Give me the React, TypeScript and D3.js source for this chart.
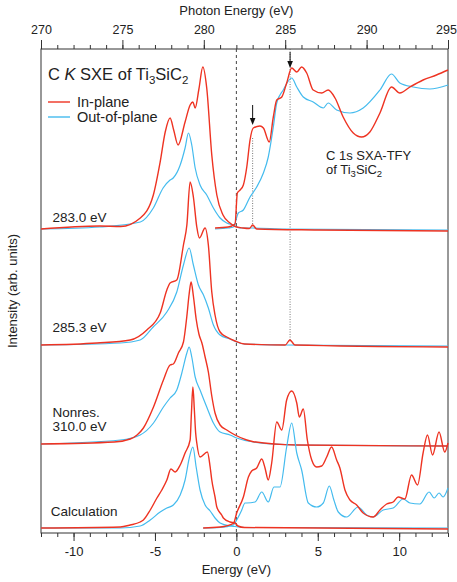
import { useEffect, useRef } from 'react';
import * as d3 from 'd3';

type Pt = [number, number];

// x: emission / absorption energy relative to 282 eV, y: intensity above each baseline (arb. units)
const sxe283In: Pt[] = [
  [-12, 0], [-8.4, 3], [-7.1, 2.5], [-5.9, 11], [-5.1, 34], [-4.68, 67], [-4.37, 97], [-4.07, 111],
  [-3.85, 99], [-3.58, 84], [-3.15, 107], [-2.84, 124], [-2.67, 127], [-2.53, 121], [-2.3, 140],
  [-2.06, 162], [-1.82, 141], [-1.51, 74], [-1.2, 34], [-0.82, 14], [-0.39, 6], [-0.08, 2.5],
  [0.41, 1], [0.8, 0.5], [1.0, 4], [1.25, 0], [5, -1], [13, -2],
];
const sxe283Out: Pt[] = [
  [-12, 0], [-8.4, 2], [-5.9, 7], [-5.1, 21], [-4.5, 41], [-4.07, 49], [-3.88, 51], [-3.45, 64],
  [-3.15, 81], [-2.94, 96], [-2.74, 84], [-2.53, 61], [-2.23, 44], [-1.82, 34], [-1.41, 21],
  [-1.0, 11], [-0.59, 6], [-0.2, 4], [0.2, 1], [1.0, 1], [3, 0], [13, -1],
];
const sxe285In: Pt[] = [
  [-12, 0], [-8.56, 2], [-6.52, 5], [-5.5, 15], [-4.68, 32], [-4.27, 55], [-4.07, 62], [-3.66, 65],
  [-3.25, 100], [-3.04, 120], [-2.84, 163], [-2.64, 148], [-2.43, 118], [-2.27, 107], [-1.92, 117],
  [-1.72, 100], [-1.51, 53], [-1.31, 30], [-1.0, 13], [-0.59, 8], [-0.08, 4], [0.5, 1], [3.0, 0],
  [3.29, 5], [3.6, 0], [13, -2],
];
const sxe285Out: Pt[] = [
  [-12, 0], [-7.13, 2], [-5.91, 5], [-5.11, 18], [-4.27, 33], [-3.66, 53], [-3.25, 80], [-2.9, 97],
  [-2.64, 80], [-2.33, 60], [-2.02, 50], [-1.72, 37], [-1.41, 20], [-1.0, 10], [-0.39, 6],
  [0.02, 3], [0.5, 1], [3, 0], [13, -1],
];
const nonresIn: Pt[] = [
  [-12, 0], [-7.5, 2], [-6.52, 5], [-6.1, 9], [-5.71, 16], [-5.09, 37], [-4.48, 64], [-4.07, 79],
  [-3.87, 80], [-3.56, 91], [-3.25, 102], [-3.04, 128], [-2.9, 150], [-2.78, 162], [-2.64, 148],
  [-2.47, 125], [-2.3, 110], [-2.1, 100], [-1.92, 87], [-1.72, 72], [-1.51, 48], [-1.31, 31],
  [-1.0, 19], [-0.59, 14], [-0.08, 9], [0.64, 4], [1.04, 2.3], [3.71, -1], [13, -2],
];
const nonresOut: Pt[] = [
  [-12, 0], [-7.13, 4], [-5.91, 9], [-5.09, 21], [-4.48, 37], [-4.07, 46], [-3.66, 54], [-3.35, 71],
  [-3.04, 91], [-2.9, 97], [-2.74, 87], [-2.53, 67], [-2.23, 54], [-1.82, 37], [-1.41, 21],
  [-1.0, 12], [-0.39, 9], [0.02, 6], [1.04, 2], [3.71, -1], [13, -2],
];
const calcEmIn: Pt[] = [
  [-12, 0], [-7.13, 1], [-6.52, 3], [-5.91, 6], [-5.71, 8], [-5.29, 18], [-4.88, 30], [-4.58, 38],
  [-4.27, 48], [-4.02, 59], [-3.76, 56], [-3.45, 63], [-3.15, 75], [-2.84, 88], [-2.76, 115],
  [-2.67, 141], [-2.58, 118], [-2.5, 95], [-2.43, 85], [-2.23, 71], [-1.78, 76], [-1.61, 61],
  [-1.51, 48], [-1.31, 31], [-1.2, 21], [-0.9, 13], [-0.8, 10], [-0.39, 6], [-0.08, 5], [0.1, 2],
  [0.5, 0.5], [13, -1],
];
const calcEmOut: Pt[] = [
  [-12, 0], [-7.13, 0], [-5.91, 2], [-5.29, 8], [-4.68, 16], [-4.27, 20], [-3.87, 23], [-3.45, 33],
  [-3.15, 48], [-2.88, 71], [-2.67, 81], [-2.47, 61], [-2.23, 38], [-1.92, 23], [-1.61, 17],
  [-1.31, 10], [-1.0, 5], [-0.39, 2], [-0.08, 1.5], [0.5, 0.5], [13, 0],
];
const calcAbsIn: Pt[] = [
  [-2.04, 0], [-1.0, 1], [-0.18, 4.7], [0.02, 15], [0.43, 31], [0.74, 51], [0.94, 57], [1.25, 60],
  [1.56, 69], [1.76, 60], [1.96, 48], [2.17, 65], [2.48, 106], [2.79, 98], [3.09, 128], [3.4, 137],
  [3.71, 125], [3.87, 111], [4.11, 119], [4.36, 88], [4.63, 68], [4.93, 61], [5.24, 62], [5.55, 71],
  [5.85, 81], [6.16, 68], [6.36, 60], [6.67, 38], [6.98, 28], [7.39, 23], [7.79, 15], [8.4, 11],
  [8.82, 18], [9.23, 24], [9.63, 26], [9.94, 31], [10.35, 29], [10.76, 53], [11.13, 43],
  [11.47, 75], [11.74, 93], [12.05, 73], [12.45, 96], [12.8, 76], [13.0, 85],
];
const calcAbsOut: Pt[] = [
  [-2.04, 0], [-1.0, 0.5], [-0.18, 3], [0.02, 8], [0.12, 11], [0.33, 18], [0.53, 25], [0.64, 25],
  [1.15, 26], [1.56, 36], [1.96, 26], [2.31, 41], [2.68, 41], [3.09, 81], [3.4, 105], [3.71, 75],
  [4.01, 58], [4.42, 25], [4.93, 21], [5.34, 25], [5.71, 42], [5.99, 28], [6.26, 16], [6.77, 11],
  [7.48, 21], [8.0, 13], [8.4, 11], [9.02, 18], [9.63, 20], [10.25, 29], [10.66, 25], [11.27, 24],
  [11.84, 36], [12.15, 30], [12.45, 35], [12.7, 31], [13.0, 40],
];
const tfyIn: Pt[] = [
  [-1.31, 1], [-0.5, 2], [-0.08, 5], [0.06, 36], [0.23, 39], [0.43, 44], [0.64, 62], [0.84, 89],
  [1.04, 101], [1.45, 103], [1.66, 101], [2.02, 87], [2.27, 112], [2.48, 129], [2.79, 132],
  [3.09, 146], [3.4, 161], [3.71, 157], [4.01, 162], [4.32, 156], [4.72, 139], [5.24, 136],
  [5.64, 139], [6.06, 131], [6.56, 112], [7.18, 96], [7.69, 92], [8.2, 97], [8.82, 116],
  [9.53, 142], [10.04, 136], [10.66, 142], [11.47, 149], [12.29, 154], [13.0, 159],
];
const tfyOut: Pt[] = [
  [-1.31, 0], [-0.5, 1], [-0.18, 2], [0.12, 16], [0.43, 19], [0.84, 32], [1.25, 42], [1.66, 56],
  [1.96, 72], [2.27, 102], [2.48, 126], [2.88, 139], [3.4, 151], [3.71, 142], [4.11, 132],
  [4.72, 127], [5.34, 121], [5.64, 126], [6.16, 119], [6.98, 116], [7.79, 121], [8.82, 139],
  [9.53, 155], [10.04, 146], [10.86, 142], [11.88, 140], [13.0, 144],
];

// vertical offsets of the stacked spectra
const baseSxe283 = 304;
const baseSxe285 = 188;
const baseNonres = 89;
const baseCalc = 5;

const spectrumLabels: [string, number, number][] = [
  ['283.0 eV', -11.3, 311],
  ['285.3 eV', -11.3, 201],
  ['Nonres.', -11.3, 116],
  ['310.0 eV', -11.3, 102],
  ['Calculation', -11.4, 17],
];
// excitation energies marked in the absorption spectrum
const excitations = [1.0, 3.3];
const photonTicks = d3.range(270, 296, 5);
const energyTicks = d3.range(-10, 11, 5);

const RED = '#ee3322';
const BLUE = '#44bbee';
const FONT = '"Liberation Sans", Arial, Helvetica, sans-serif';

function App() {
  const svgRef = useRef<SVGSVGElement>(null);

  useEffect(() => {
    const width = 457;
    const height = 582;
    const margin = { left: 41, right: 9, top: 49, bottom: 49 };
    d3.select(svgRef.current).selectAll('*').remove();

    const svg = d3.select(svgRef.current)
      .attr('width', width)
      .attr('height', height)
      .style('font-family', FONT);

    const x = d3.scaleLinear().domain([-12, 13]).range([margin.left, width - margin.right]);
    const xTop = d3.scaleLinear().domain([270, 295]).range([margin.left, width - margin.right]);
    const y = d3.scaleLinear().domain([0, 484]).range([height - margin.bottom, margin.top]);
    const yBottom = height - margin.bottom;

    // bottom axis: minor ticks every eV, labelled every 5
    svg.append('g')
      .attr('transform', `translate(0,${yBottom})`)
      .call(d3.axisBottom(x).tickValues(d3.range(-12, 14)).tickSize(4).tickFormat(() => ''))
      .call(g => g.select('.domain').remove());
    svg.append('g')
      .attr('transform', `translate(0,${yBottom})`)
      .call(d3.axisBottom(x).tickValues(energyTicks).tickSize(8).tickPadding(6).tickFormat(d => String(d)))
      .call(g => g.select('.domain').remove())
      .call(g => g.selectAll('text').attr('font-size', 13).attr('font-family', FONT).attr('fill', '#222'));

    svg.append('g')
      .attr('transform', `translate(0,${margin.top})`)
      .call(d3.axisTop(xTop).tickValues(d3.range(270, 296)).tickSize(4).tickFormat(() => ''))
      .call(g => g.select('.domain').remove());
    svg.append('g')
      .attr('transform', `translate(0,${margin.top})`)
      .call(d3.axisTop(xTop).tickValues(photonTicks).tickSize(9).tickPadding(6).tickFormat(d => String(d)))
      .call(g => g.select('.domain').remove())
      .call(g => g.selectAll('text').attr('font-size', 12.5).attr('font-family', FONT).attr('fill', '#222')
        .attr('dx', d => (d === 295 ? -2 : 0)));

    svg.selectAll('.tick line').attr('stroke', '#333');

    svg.append('rect')
      .attr('x', margin.left).attr('y', margin.top)
      .attr('width', width - margin.left - margin.right)
      .attr('height', height - margin.top - margin.bottom)
      .attr('fill', 'none').attr('stroke', '#333').attr('stroke-width', 1);

    // axis titles
    svg.append('text').attr('x', x(0)).attr('y', 15).attr('text-anchor', 'middle')
      .attr('font-size', 13).attr('fill', '#222').text('Photon Energy (eV)');
    svg.append('text').attr('x', x(0)).attr('y', 574).attr('text-anchor', 'middle')
      .attr('font-size', 13).attr('fill', '#222').text('Energy (eV)');
    svg.append('text').attr('transform', `translate(17,${(margin.top + yBottom) / 2}) rotate(-90)`)
      .attr('text-anchor', 'middle').attr('font-size', 13).attr('fill', '#222')
      .text('Intensity (arb. units)');

    // E = 0 reference and excitation markers
    svg.append('line')
      .attr('x1', x(0)).attr('x2', x(0)).attr('y1', y(484)).attr('y2', y(0))
      .attr('stroke', '#444').attr('stroke-width', 1).attr('stroke-dasharray', '3,3');
    svg.append('line')
      .attr('x1', x(excitations[0])).attr('x2', x(excitations[0]))
      .attr('y1', y(baseSxe283 + 91)).attr('y2', y(baseSxe283 + 2))
      .attr('stroke', '#555').attr('stroke-width', 0.8).attr('stroke-dasharray', '1,1.5');
    svg.append('line')
      .attr('x1', x(excitations[1])).attr('x2', x(excitations[1]))
      .attr('y1', y(484)).attr('y2', y(baseSxe285 + 3))
      .attr('stroke', '#555').attr('stroke-width', 0.8).attr('stroke-dasharray', '1,1.5');

    const arrows: [number, number, number][] = [
      [excitations[0], baseSxe283 + 124, baseSxe283 + 104],
      [excitations[1], 481, 465],
    ];
    arrows.forEach(([e, top, tip]) => {
      const ax = x(e);
      svg.append('line').attr('x1', ax).attr('x2', ax).attr('y1', y(top)).attr('y2', y(tip) - 5)
        .attr('stroke', '#111').attr('stroke-width', 1);
      svg.append('path')
        .attr('d', `M${ax - 2.8},${y(tip) - 7}L${ax + 2.8},${y(tip) - 7}L${ax},${y(tip)}Z`)
        .attr('fill', '#111');
    });

    const line = (base: number) => d3.line<Pt>()
      .x(d => x(d[0]))
      .y(d => y(d[1] + base))
      .curve(d3.curveMonotoneX);

    const spectra: [Pt[], number, string][] = [
      [sxe283Out, baseSxe283, BLUE], [tfyOut, baseSxe283, BLUE],
      [sxe283In, baseSxe283, RED], [tfyIn, baseSxe283, RED],
      [sxe285Out, baseSxe285, BLUE], [sxe285In, baseSxe285, RED],
      [nonresOut, baseNonres, BLUE], [nonresIn, baseNonres, RED],
      [calcEmOut, baseCalc, BLUE], [calcAbsOut, baseCalc, BLUE],
      [calcEmIn, baseCalc, RED], [calcAbsIn, baseCalc, RED],
    ];
    svg.append('g').selectAll('path')
      .data(spectra)
      .join('path')
      .attr('d', d => line(d[1])(d[0]))
      .attr('fill', 'none')
      .attr('stroke', d => d[2])
      .attr('stroke-width', d => (d[2] === RED ? 1.4 : 1.2))
      .attr('stroke-linejoin', 'round');

    // stacked spectrum labels
    svg.append('g').selectAll('text')
      .data(spectrumLabels)
      .join('text')
      .attr('x', d => x(d[1]))
      .attr('y', d => y(d[2]))
      .attr('font-size', 13.5)
      .attr('fill', '#222')
      .text(d => d[0]);

    // title with subscripts
    const title = svg.append('text').attr('x', 48).attr('y', 80).attr('font-size', 16.5).attr('fill', '#222');
    title.append('tspan').text('C ');
    title.append('tspan').attr('font-style', 'italic').text('K');
    title.append('tspan').text(' SXE of Ti');
    title.append('tspan').attr('font-size', 11.5).attr('dy', 4).text('3');
    title.append('tspan').attr('dy', -4).text('SiC');
    title.append('tspan').attr('font-size', 11.5).attr('dy', 4).text('2');

    const tfyLabel = svg.append('text').attr('x', 326).attr('y', 160).attr('font-size', 13).attr('fill', '#222');
    tfyLabel.append('tspan').text('C 1s SXA-TFY');
    const tfy2 = svg.append('text').attr('x', 326).attr('y', 174).attr('font-size', 13).attr('fill', '#222');
    tfy2.append('tspan').text('of Ti');
    tfy2.append('tspan').attr('font-size', 9.5).attr('dy', 3).text('3');
    tfy2.append('tspan').attr('dy', -3).text('SiC');
    tfy2.append('tspan').attr('font-size', 9.5).attr('dy', 3).text('2');

    // legend
    const legend: [string, string][] = [['In-plane', RED], ['Out-of-plane', BLUE]];
    legend.forEach(([name, color], i) => {
      const ly = 102 + i * 15;
      svg.append('line').attr('x1', 48).attr('x2', 70).attr('y1', ly).attr('y2', ly)
        .attr('stroke', color).attr('stroke-width', 1.4);
      svg.append('text').attr('x', 77).attr('y', ly + 4.5).attr('font-size', 14.5)
        .attr('fill', '#222').text(name);
    });
  }, []);

  return (
    <div style={{ position: 'absolute', left: 0, top: 0 }}>
      <svg ref={svgRef} style={{ display: 'block' }} />
    </div>
  );
}

export default App;
